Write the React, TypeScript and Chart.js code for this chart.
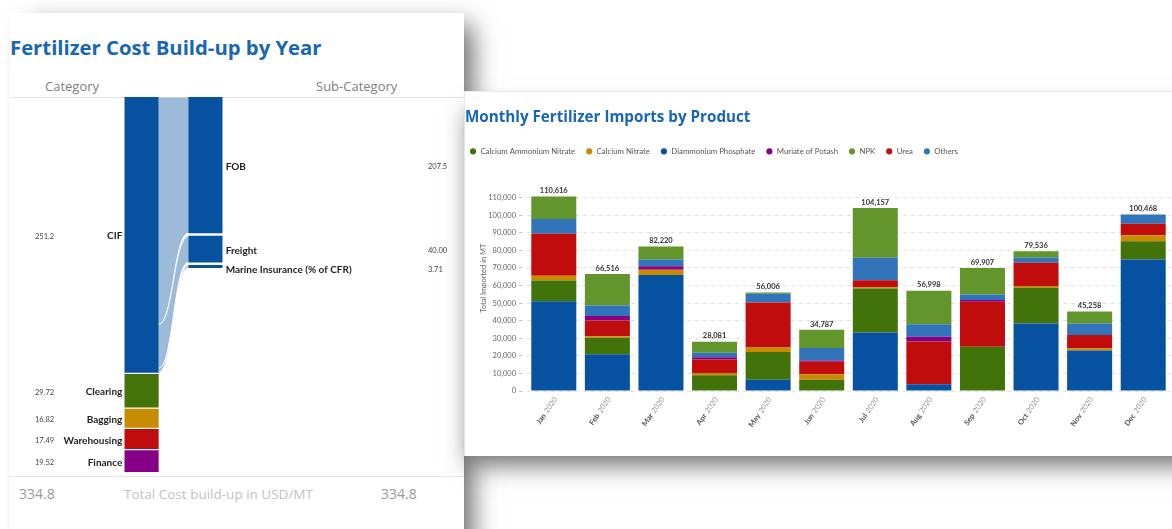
import React, { useEffect, useRef } from 'react';
import { Chart, registerables } from 'chart.js';

Chart.register(...registerables);

const FONT = '"Segoe UI", "Open Sans", "Noto Sans", sans-serif';
const SMALL_FONT = 'Lato, "Open Sans", sans-serif';
const TITLE_BLUE = '#1866b4';

// ---------- Fertilizer Cost Build-up by Year (sankey-like) ----------
const COST_CATEGORIES = ['CIF', 'Clearing', 'Bagging', 'Warehousing', 'Finance'];
const COST_VALUES = [251.2, 29.72, 16.82, 17.49, 19.52];
const COST_COLORS = ['#0651a0', '#437309', '#c78c00', '#c00c0c', '#850085'];
const CIF_SUBCATEGORIES = ['FOB', 'Freight', 'Marine Insurance (% of CFR)'];
const CIF_SUB_VALUES = [207.5, 40.0, 3.71];
const SUB_COLOR = '#0651a0';
const TOTAL_COST = 334.8;
const LEFT_GAP = 1.8;
const RIGHT_GAP = 4.6;
const RIGHT_SCALE_MAX = 572;

// ---------- Monthly Fertilizer Imports by Product ----------
const MONTHS = ['Jan', 'Feb', 'Mar', 'Apr', 'May', 'Jun', 'Jul', 'Aug', 'Sep', 'Oct', 'Nov', 'Dec'];
const YEAR = '2020';
const DIAMMONIUM_PHOSPHATE = [51000, 20900, 66000, 0, 6400, 0, 33300, 3900, 0, 38400, 23100, 74800];
const CALCIUM_AMMONIUM_NITRATE = [11800, 9400, 0, 9000, 15800, 6400, 25000, 0, 25200, 20300, 0, 10400];
const CALCIUM_NITRATE = [2800, 900, 3000, 1200, 2600, 3200, 700, 0, 0, 1100, 1200, 3400];
const UREA = [23900, 8900, 0, 7700, 25600, 7100, 4000, 24300, 25600, 13200, 7500, 6500];
const MURIATE_OF_POTASH = [0, 2600, 1900, 1300, 0, 600, 0, 2600, 900, 0, 0, 0];
const OTHERS = [8300, 6000, 3900, 2600, 4900, 7100, 12800, 7200, 3200, 3000, 6600, 5368];
const NPK = [12816, 17816, 7420, 6281, 706, 10387, 28357, 18998, 15007, 3536, 6858, 0];
const MONTH_TOTALS = [110616, 66516, 82220, 28081, 56006, 34787, 104157, 56998, 69907, 79536, 45258, 100468];
const LEGEND_ORDER = [
  'Calcium Ammonium Nitrate',
  'Calcium Nitrate',
  'Diammonium Phosphate',
  'Muriate of Potash',
  'NPK',
  'Urea',
  'Others',
];
const Y_TICKS = [0, 10000, 20000, 30000, 40000, 50000, 60000, 70000, 80000, 90000, 100000, 110000];
const Y_MAX = 128400;

const fmtCost = (v: number) => (v >= 100 ? v.toFixed(1) : v.toFixed(2));

function SankeyChart() {
  const ref = useRef<HTMLCanvasElement>(null);
  useEffect(() => {
    const canvas = ref.current;
    if (!canvas) return;
    let cum = 0;
    const leftRanges = COST_VALUES.map((v) => {
      const r = [cum, cum + v];
      cum += v + LEFT_GAP;
      return r;
    });
    const leftMax = cum - LEFT_GAP;
    let cumR = 0;
    const rightRanges = CIF_SUB_VALUES.map((v) => {
      const r = [cumR, cumR + v];
      cumR += v + RIGHT_GAP;
      return r;
    });
    const nLeft = COST_CATEGORIES.length;

    const datasets: any[] = [
      ...COST_CATEGORIES.map((name, i) => ({
        label: name,
        data: [leftRanges[i], null, null],
        backgroundColor: COST_COLORS[i],
        borderWidth: 0,
        yAxisID: 'yL',
        grouped: false,
        barThickness: 35,
      })),
      ...CIF_SUBCATEGORIES.map((name, i) => ({
        label: name,
        data: [null, null, rightRanges[i]],
        backgroundColor: SUB_COLOR,
        borderWidth: 0,
        yAxisID: 'yR',
        grouped: false,
        barThickness: 35,
      })),
    ];

    const linksPlugin = {
      id: 'links',
      beforeDatasetsDraw(chart: any) {
        const ctx = chart.ctx;
        const yL = chart.scales.yL;
        const cif = chart.getDatasetMeta(0).data[0];
        const xL = cif.x + cif.width / 2;
        let c = 0;
        CIF_SUB_VALUES.forEach((v, i) => {
          const el = chart.getDatasetMeta(nLeft + i).data[2];
          const xR = el.x - el.width / 2;
          const ly0 = yL.getPixelForValue(c);
          const ly1 = yL.getPixelForValue(c + v);
          const ry0 = Math.min(el.y, el.base);
          const ry1 = Math.max(el.y, el.base);
          const mid = (xL + xR) / 2;
          ctx.save();
          ctx.beginPath();
          ctx.moveTo(xL, ly0);
          ctx.bezierCurveTo(mid, ly0, mid, ry0, xR, ry0);
          ctx.lineTo(xR, ry1);
          ctx.bezierCurveTo(mid, ry1, mid, ly1, xL, ly1);
          ctx.closePath();
          ctx.fillStyle = 'rgba(10,82,160,0.4)';
          ctx.fill();
          ctx.strokeStyle = 'rgba(255,255,255,0.9)';
          ctx.lineWidth = 1;
          ctx.stroke();
          ctx.restore();
          c += v;
        });
      },
    };

    const labelsPlugin = {
      id: 'nodeLabels',
      afterDatasetsDraw(chart: any) {
        const ctx = chart.ctx;
        ctx.save();
        ctx.textBaseline = 'middle';
        COST_CATEGORIES.forEach((name, i) => {
          const el = chart.getDatasetMeta(i).data[0];
          const yc = (el.y + el.base) / 2 + 1.5;
          const left = el.x - el.width / 2;
          ctx.font = `bold 10px ${SMALL_FONT}`;
          ctx.fillStyle = '#1f1f1f';
          ctx.textAlign = 'right';
          ctx.fillText(name, left - 1, yc);
          ctx.font = `7.5px ${SMALL_FONT}`;
          ctx.fillStyle = '#444';
          ctx.textAlign = 'left';
          ctx.fillText(fmtCost(COST_VALUES[i]), 25, yc);
        });
        CIF_SUBCATEGORIES.forEach((name, i) => {
          const el = chart.getDatasetMeta(nLeft + i).data[2];
          const yc = (el.y + el.base) / 2 + 1.5 + (i === 2 ? 2 : 0);
          const right = el.x + el.width / 2;
          ctx.font = `bold 10px ${SMALL_FONT}`;
          ctx.fillStyle = '#1f1f1f';
          ctx.textAlign = 'left';
          ctx.fillText(name, right + 2, yc);
          ctx.font = `7.5px ${SMALL_FONT}`;
          ctx.fillStyle = '#444';
          ctx.fillText(fmtCost(CIF_SUB_VALUES[i]), 418, yc);
        });
        ctx.restore();
      },
    };

    const chart = new Chart(canvas, {
      type: 'bar',
      data: { labels: ['Category', '', 'Sub-Category'], datasets },
      options: {
        animation: false,
        responsive: false,
        maintainAspectRatio: false,
        layout: { padding: { left: 114.5, right: 241.5, top: 0, bottom: 5 } },
        plugins: { legend: { display: false }, tooltip: { enabled: false } },
        scales: {
          x: { display: false, offset: true },
          yL: { display: false, reverse: true, min: 0, max: leftMax },
          yR: { display: false, reverse: true, min: 0, max: RIGHT_SCALE_MAX },
        },
      } as any,
      plugins: [linksPlugin, labelsPlugin],
    });
    return () => chart.destroy();
  }, []);
  return (
    <canvas
      ref={ref}
      width={454}
      height={380}
      style={{ position: 'absolute', left: 10, top: 97, width: 454, height: 380 }}
    />
  );
}

function ImportsChart() {
  const ref = useRef<HTMLCanvasElement>(null);
  useEffect(() => {
    const canvas = ref.current;
    if (!canvas) return;
    const series = [
      { name: 'Diammonium Phosphate', data: DIAMMONIUM_PHOSPHATE, color: '#0652a0' },
      { name: 'Calcium Ammonium Nitrate', data: CALCIUM_AMMONIUM_NITRATE, color: '#41730a' },
      { name: 'Calcium Nitrate', data: CALCIUM_NITRATE, color: '#c88b00' },
      { name: 'Urea', data: UREA, color: '#c00c0c' },
      { name: 'Muriate of Potash', data: MURIATE_OF_POTASH, color: '#870087' },
      { name: 'Others', data: OTHERS, color: '#3174ba' },
      { name: 'NPK', data: NPK, color: '#62952b' },
    ];

    const totalsPlugin = {
      id: 'totals',
      afterDatasetsDraw(chart: any) {
        const ctx = chart.ctx;
        const x = chart.scales.x;
        const y = chart.scales.y;
        ctx.save();
        ctx.font = `bold 7.5px ${SMALL_FONT}`;
        ctx.fillStyle = '#333';
        ctx.textAlign = 'center';
        ctx.textBaseline = 'bottom';
        MONTH_TOTALS.forEach((t, i) => {
          ctx.fillText(t.toLocaleString('en-US'), x.getPixelForValue(i), y.getPixelForValue(t) - 2);
        });
        ctx.restore();
      },
    };

    const xLabelsPlugin = {
      id: 'xLabels',
      afterDraw(chart: any) {
        const ctx = chart.ctx;
        const x = chart.scales.x;
        const top = chart.chartArea.bottom;
        ctx.save();
        ctx.textBaseline = 'middle';
        ctx.textAlign = 'right';
        MONTHS.forEach((m, i) => {
          const px = x.getPixelForValue(i);
          ctx.save();
          ctx.translate(px + 2, top + 7);
          ctx.rotate((-55 * Math.PI) / 180);
          ctx.font = `7.5px ${SMALL_FONT}`;
          ctx.fillStyle = '#9a9a9a';
          ctx.fillText(YEAR, 0, 0);
          const w = ctx.measureText(YEAR).width;
          ctx.font = `bold 7.5px ${SMALL_FONT}`;
          ctx.fillStyle = '#555';
          ctx.fillText(m, -w - 2.5, 0);
          ctx.restore();
        });
        ctx.restore();
      },
    };

    const chart = new Chart(canvas, {
      type: 'bar',
      data: {
        labels: MONTHS.map((m) => `${m} ${YEAR}`),
        datasets: series.map((s) => ({
          label: s.name,
          data: s.data,
          backgroundColor: s.color,
          borderWidth: 0,
          categoryPercentage: 0.84,
          barPercentage: 1,
        })),
      },
      options: {
        animation: false,
        responsive: false,
        maintainAspectRatio: false,
        layout: { padding: { left: 0, right: 2, top: 0, bottom: 0 } },
        plugins: {
          tooltip: { enabled: false },
          legend: {
            position: 'top',
            align: 'start',
            labels: {
              usePointStyle: true,
              pointStyle: 'circle',
              boxWidth: 7,
              boxHeight: 4.3,
              padding: 10.5,
              color: '#555',
              font: { family: SMALL_FONT, size: 7.8 },
              sort: (a: any, b: any) => LEGEND_ORDER.indexOf(a.text) - LEGEND_ORDER.indexOf(b.text),
            },
          },
        },
        scales: {
          x: {
            stacked: true,
            grid: { display: false },
            border: { display: false },
            ticks: { display: false },
            afterFit: (s: any) => {
              s.height = 65;
            },
          },
          y: {
            stacked: true,
            min: 0,
            max: Y_MAX,
            afterBuildTicks: (s: any) => {
              s.ticks = Y_TICKS.map((v) => ({ value: v }));
            },
            afterFit: (s: any) => {
              s.width = 68;
            },
            ticks: {
              autoSkip: false,
              padding: 3,
              color: '#666',
              font: { family: SMALL_FONT, size: 7.5 },
              callback: (v: any) => Number(v).toLocaleString('en-US'),
            },
            grid: {
              color: '#e2e2e2',
              tickLength: 8,
              tickColor: '#bbb',
              tickBorderDash: [3, 5],
            },
            border: { display: false, dash: [4, 4] },
            title: {
              display: true,
              text: 'Total Imported in MT',
              color: '#666',
              font: { family: SMALL_FONT, size: 7.5 },
              padding: { top: 20, bottom: 0 },
            },
          },
        },
      } as any,
      plugins: [totalsPlugin, xLabelsPlugin],
    });
    return () => chart.destroy();
  }, []);
  return (
    <canvas
      ref={ref}
      width={713}
      height={319}
      style={{ position: 'absolute', left: 459, top: 137, width: 713, height: 319 }}
    />
  );
}

function Txt(props: { x: number; y: number; size: number; weight?: number; color: string; children: any }) {
  const { x, y, size, weight = 400, color, children } = props;
  return (
    <div
      style={{
        position: 'absolute',
        left: x,
        top: y - 0.888 * size,
        fontSize: size,
        lineHeight: 1,
        fontWeight: weight,
        color,
        fontFamily: FONT,
        whiteSpace: 'nowrap',
      }}
    >
      {children}
    </div>
  );
}

export default function App() {
  return (
    <div style={{ position: 'fixed', inset: 0, overflow: 'hidden', background: '#fff', fontFamily: FONT }}>
      {/* left card */}
      <div
        style={{
          position: 'absolute',
          left: 10,
          top: 13,
          width: 454,
          height: 560,
          background: '#fff',
          boxShadow: '14px 6px 24px -6px rgba(0,0,0,0.6)',
        }}
      />
      <Txt x={10} y={55} size={20.3} weight={700} color={TITLE_BLUE}>
        Fertilizer Cost Build-up by Year
      </Txt>
      <Txt x={45} y={91.5} size={13} color="#808080">
        Category
      </Txt>
      <Txt x={316} y={91.5} size={13} color="#808080">
        Sub-Category
      </Txt>
      <div style={{ position: 'absolute', left: 10, top: 96.5, width: 454, height: 1, background: '#e3e3e3' }} />
      <div style={{ position: 'absolute', left: 10, top: 476, width: 454, height: 1, background: '#e8e8e8' }} />
      <SankeyChart />
      <Txt x={19} y={499.5} size={14} color="#9a9a9a">
        {TOTAL_COST.toFixed(1)}
      </Txt>
      <Txt x={124} y={499.5} size={13.5} color="#c2c2c2">
        Total Cost build-up in USD/MT
      </Txt>
      <Txt x={381} y={499.5} size={14} color="#9a9a9a">
        {TOTAL_COST.toFixed(1)}
      </Txt>

      {/* right card */}
      <div
        style={{
          position: 'absolute',
          left: 464,
          top: 91,
          width: 740,
          height: 365,
          background: '#fff',
          borderTop: '1px solid #ececec',
          borderLeft: '1px solid #e6e6e6',
          boxSizing: 'border-box',
          boxShadow: '0 14px 24px -6px rgba(0,0,0,0.6)',
        }}
      />
      <Txt x={465} y={122.3} size={15.2} weight={700} color={TITLE_BLUE}>
        Monthly Fertilizer Imports by Product
      </Txt>
      <ImportsChart />
    </div>
  );
}
